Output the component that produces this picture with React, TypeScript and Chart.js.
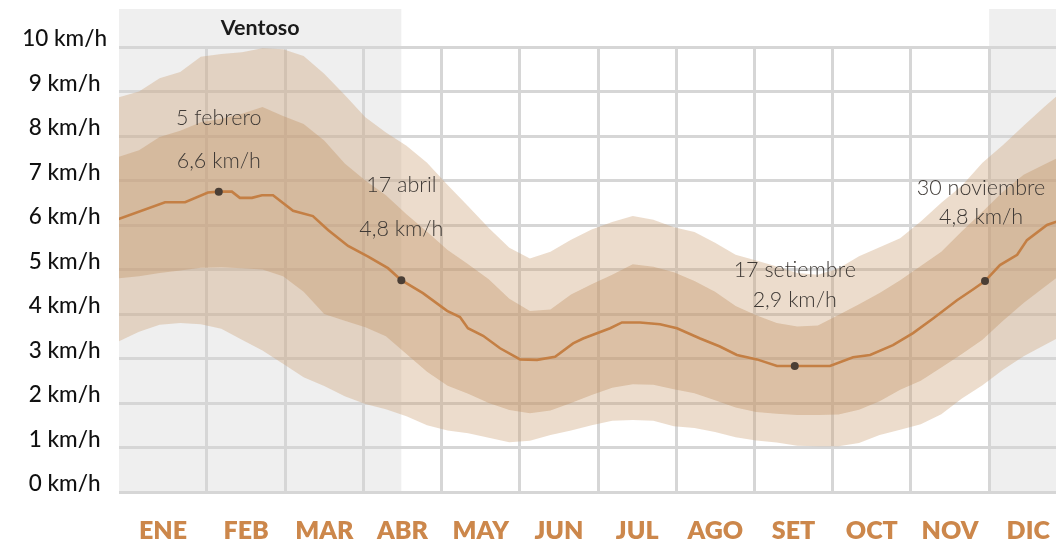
import React, { useEffect, useRef } from "react";
import { Chart, registerables } from "chart.js";

Chart.register(...registerables);

// ---- data ----
const monthLabels = ["ENE", "FEB", "MAR", "ABR", "MAY", "JUN", "JUL", "AGO", "SET", "OCT", "NOV", "DIC"];
const yTickValues = [0, 1, 2, 3, 4, 5, 6, 7, 8, 9, 10];
const yUnit = "km/h";

// band sample days (day of year, 0 = 1 Jan)
const bandDays = [-4, 4, 12, 20, 28, 36, 44, 52, 60, 68, 76, 84, 92, 100, 108, 116, 124, 132, 140, 148, 156, 164, 172, 180, 188, 196, 204, 212, 220, 228, 236, 244, 252, 260, 268, 276, 284, 292, 300, 308, 316, 324, 332, 340, 348, 356, 361];
const p90 = [8.87, 9.0, 9.3, 9.44, 9.78, 9.84, 9.88, 9.97, 9.95, 9.8, 9.4, 8.92, 8.42, 8.08, 7.78, 7.4, 6.9, 6.42, 5.93, 5.49, 5.25, 5.4, 5.67, 5.9, 6.07, 6.2, 6.12, 5.95, 5.84, 5.6, 5.33, 5.2, 5.07, 4.92, 4.88, 5.02, 5.3, 5.5, 5.7, 6.08, 6.5, 6.88, 7.4, 7.8, 8.23, 8.65, 8.9];
const p75 = [7.53, 7.68, 7.98, 8.12, 8.31, 8.39, 8.5, 8.65, 8.45, 8.27, 7.9, 7.38, 7.0, 6.67, 6.24, 5.85, 5.44, 5.12, 4.78, 4.34, 4.07, 4.1, 4.44, 4.67, 4.88, 5.12, 5.06, 4.94, 4.74, 4.5, 4.18, 3.97, 3.8, 3.72, 3.74, 3.98, 4.22, 4.47, 4.76, 5.08, 5.4, 5.86, 6.3, 6.75, 7.13, 7.36, 7.5];
const p25 = [4.8, 4.85, 4.92, 4.98, 5.04, 5.05, 5.03, 5.0, 4.85, 4.5, 4.0, 3.85, 3.7, 3.5, 3.1, 2.7, 2.39, 2.21, 2.0, 1.84, 1.77, 1.83, 2.0, 2.18, 2.34, 2.42, 2.41, 2.31, 2.22, 2.06, 1.9, 1.8, 1.76, 1.73, 1.73, 1.74, 1.85, 2.04, 2.3, 2.5, 2.8, 3.1, 3.42, 3.85, 4.25, 4.6, 4.82];
const p10 = [3.38, 3.6, 3.76, 3.8, 3.77, 3.67, 3.42, 3.18, 2.88, 2.58, 2.38, 2.15, 1.98, 1.86, 1.7, 1.5, 1.38, 1.32, 1.22, 1.12, 1.15, 1.28, 1.38, 1.5, 1.6, 1.62, 1.6, 1.48, 1.44, 1.35, 1.23, 1.16, 1.11, 1.04, 1.03, 1.03, 1.1, 1.28, 1.4, 1.52, 1.75, 2.1, 2.4, 2.75, 3.05, 3.3, 3.45];

// median
const medianDays = [-4.2, 14.1, 21.9, 30.8, 35, 40.1, 43.2, 47.9, 51.8, 56.1, 63.9, 71.6, 77.5, 85.3, 93.1, 100.8, 106, 114.4, 123.8, 128.8, 131.9, 137.8, 144.4, 152.2, 158.8, 165.8, 172.8, 176.7, 187.2, 191.8, 198.8, 206.6, 213.2, 222.2, 229.9, 236.5, 244.3, 252.1, 259, 272.7, 281.7, 288.3, 297.2, 305.0, 312.8, 322.1, 328.3, 333, 338.8, 345.5, 349.3, 357.1, 361];
const medianValues = [6.13, 6.51, 6.51, 6.73, 6.75, 6.75, 6.61, 6.61, 6.67, 6.67, 6.32, 6.2, 5.89, 5.53, 5.29, 5.03, 4.76, 4.47, 4.07, 3.93, 3.68, 3.51, 3.23, 2.98, 2.97, 3.04, 3.34, 3.45, 3.68, 3.81, 3.81, 3.77, 3.68, 3.45, 3.27, 3.08, 2.98, 2.83, 2.83, 2.83, 3.03, 3.08, 3.3, 3.57, 3.9, 4.31, 4.55, 4.74, 5.1, 5.33, 5.66, 6.0, 6.08];

// highlighted points
const highlightDays = [35, 106, 259, 333];
const highlightValues = [6.75, 4.76, 2.83, 4.74];
const highlightDates = ["5 febrero", "17 abril", "17 setiembre", "30 noviembre"];
const highlightTexts = ["6,6 km/h", "4,8 km/h", "2,9 km/h", "4,8 km/h"];

// windy season (Ventoso)
const windyLabel = "Ventoso";
const windyStart = [-10, 334.6];
const windyEnd = [106, 400];

// ---- layout / style ----
const X_MIN = -3.8;
const X_MAX = 360.6;
const Y_MAX = 10;
const MONTH = 365 / 12;
const BAND_ABOVE = 38; // grey band extends this many px above the plot area
// [dx, dy of date line, dy of value line] relative to marker, in px
const annotationShift = [
  [0, -74, -31],
  [0, -95, -51],
  [0, -96, -66],
  [-4, -93, -64],
];

const GRID = "#d6d6d6";

const pts = (xs: number[], ys: number[]) => xs.map((x, i) => ({ x, y: ys[i] }));

const decorPlugin = {
  id: "decor",
  beforeDraw(chart: any) {
    const { ctx, chartArea, scales } = chart;
    const x = scales.x;
    ctx.save();
    ctx.fillStyle = "#efefef";
    let firstMid = 0;
    const top = chartArea.top - BAND_ABOVE;
    windyStart.forEach((s, i) => {
      const x0 = Math.max(x.getPixelForValue(s), chartArea.left);
      const x1 = Math.min(x.getPixelForValue(windyEnd[i]), chartArea.right);
      if (i === 0) firstMid = (x0 + x1) / 2;
      ctx.fillRect(x0, top, x1 - x0, chartArea.bottom - top);
    });
    ctx.fillStyle = "#1a1a1a";
    ctx.font = "bold 21.5px Lato";
    ctx.textAlign = "center";
    ctx.textBaseline = "middle";
    ctx.fillText(windyLabel, firstMid, top + 19);
    ctx.restore();
  },
  afterDatasetsDraw(chart: any) {
    const { ctx, scales } = chart;
    const x = scales.x;
    const y = scales.y;
    ctx.save();
    ctx.font = "300 21.5px Lato";
    ctx.fillStyle = "#3e3935";
    ctx.textAlign = "center";
    ctx.textBaseline = "middle";
    highlightDays.forEach((d, i) => {
      const px = x.getPixelForValue(d) + annotationShift[i][0];
      const py = y.getPixelForValue(highlightValues[i]);
      ctx.fillText(highlightDates[i], px, py + annotationShift[i][1]);
      ctx.fillText(highlightTexts[i], px, py + annotationShift[i][2]);
    });
    ctx.restore();
  },
};

const noPad = (s: any) => {
  s.paddingLeft = 0;
  s.paddingRight = 0;
  s.paddingTop = 0;
  s.paddingBottom = 0;
};

export default function App() {
  const ref = useRef<HTMLCanvasElement>(null);
  useEffect(() => {
    const chart = new Chart(ref.current as HTMLCanvasElement, {
      type: "line",
      data: {
        datasets: [
          {
            label: "highlights",
            data: pts(highlightDays, highlightValues),
            showLine: false,
            pointRadius: 4,
            pointHoverRadius: 0,
            pointBackgroundColor: "#4a3e35",
            pointBorderWidth: 0,
            xAxisID: "x",
            yAxisID: "y",
          },
          {
            label: "median",
            data: pts(medianDays, medianValues),
            borderColor: "#c47f44",
            borderWidth: 2.6,
            pointRadius: 0,
            pointHoverRadius: 0,
            fill: false,
            tension: 0,
            xAxisID: "x",
            yAxisID: "y",
          },
          {
            label: "p75",
            data: pts(bandDays, p75),
            borderWidth: 0,
            pointRadius: 0,
            pointHoverRadius: 0,
            fill: 3,
            backgroundColor: "rgba(196,150,106,0.4)",
            tension: 0,
            xAxisID: "x",
            yAxisID: "y",
          },
          {
            label: "p25",
            data: pts(bandDays, p25),
            borderWidth: 0,
            pointRadius: 0,
            pointHoverRadius: 0,
            fill: false,
            tension: 0,
            xAxisID: "x",
            yAxisID: "y",
          },
          {
            label: "p90",
            data: pts(bandDays, p90),
            borderWidth: 0,
            pointRadius: 0,
            pointHoverRadius: 0,
            fill: 5,
            backgroundColor: "rgba(204,162,119,0.375)",
            tension: 0,
            xAxisID: "x",
            yAxisID: "y",
          },
          {
            label: "p10",
            data: pts(bandDays, p10),
            borderWidth: 0,
            pointRadius: 0,
            pointHoverRadius: 0,
            fill: false,
            tension: 0,
            xAxisID: "x",
            yAxisID: "y",
          },
        ],
      },
      options: {
        responsive: false,
        animation: false,
        events: [],
        layout: { autoPadding: false, padding: { top: 47, left: 0, right: 0, bottom: 0 } },
        plugins: { legend: { display: false }, tooltip: { enabled: false } },
        scales: {
          x: {
            type: "linear",
            position: "bottom",
            min: X_MIN,
            max: X_MAX,
            afterBuildTicks: (s: any) => {
              s.ticks = monthLabels.slice(1).map((_, i) => ({ value: (i + 1) * MONTH }));
            },
            afterFit: (s: any) => {
              s.height = 0;
              noPad(s);
            },
            ticks: { display: false },
            grid: { color: GRID, lineWidth: 3, drawTicks: false },
            border: { display: false },
          },
          xl: {
            type: "linear",
            position: "bottom",
            min: X_MIN,
            max: X_MAX,
            afterBuildTicks: (s: any) => {
              s.ticks = monthLabels.map((_, i) => ({
                value: i === 0 ? (X_MIN + MONTH) / 2 : (i + 0.5) * MONTH,
              }));
            },
            afterFit: (s: any) => {
              s.height = 54;
              noPad(s);
            },
            ticks: {
              autoSkip: false,
              maxRotation: 0,
              padding: 24,
              color: "#cc874b",
              font: { family: "Lato", size: 25, weight: "800" },
              callback: (_v: any, i: number) => monthLabels[i],
            },
            grid: { display: false, drawTicks: false },
            border: { display: false },
          },
          y: {
            type: "linear",
            min: 0,
            max: Y_MAX,
            afterBuildTicks: (s: any) => {
              s.ticks = yTickValues.map((v) => ({ value: v }));
            },
            afterFit: (s: any) => {
              s.width = 119;
              noPad(s);
            },
            ticks: {
              crossAlign: "center",
              padding: 12,
              labelOffset: -8,
              color: "#111",
              font: { family: "Lato", size: 22.5, weight: "500" },
              callback: (v: any) => `${v} ${yUnit}`,
            },
            grid: { color: GRID, lineWidth: 3, drawTicks: false },
            border: { display: false },
          },
        },
      },
      plugins: [decorPlugin],
    } as any);
    return () => chart.destroy();
  }, []);
  return (
    <div style={{ position: "fixed", left: 0, top: 0, width: 1056, height: 546, background: "#fff" }}>
      <canvas ref={ref} width={1056} height={546} />
    </div>
  );
}
